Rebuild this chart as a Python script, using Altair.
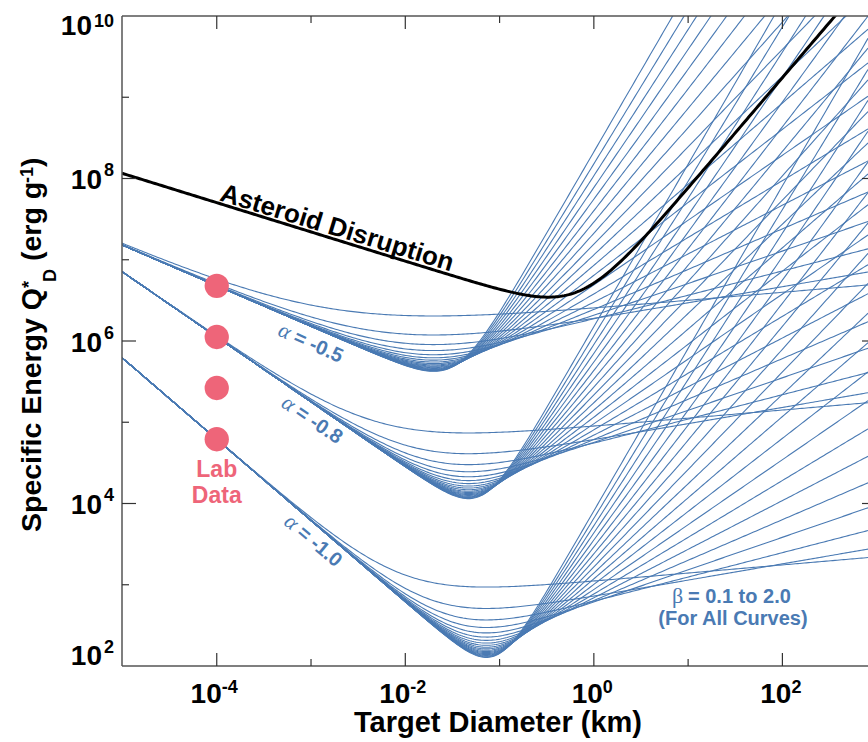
import numpy as np
import pandas as pd
import altair as alt

FONT = "Liberation Sans"
GREEK = "Liberation Serif"
BLUE = "#4a7ab3"
PINK = "#ee6579"
FRAME = "#555555"

# ---------------- values ----------------
# three strength-scaling families (alpha), each with gravity exponents beta;
# every curve of one family has its minimum at the same diameter
family_labels = ["-0.5", "-0.8", "-1.0"]
family_alpha = [-0.5, -0.8, -1.0]
family_log_a = [4.68, 2.85, 0.79]          # log10 of strength term at D = 1 km
family_logD_min = [-1.70, -1.33, -1.14]    # log10 diameter of the family's minimum
betas = [0.1, 0.2, 0.3, 0.4, 0.5, 0.6, 0.7, 0.8, 0.9, 1.0,
         1.1, 1.2, 1.3, 1.4, 1.5, 1.6, 1.7, 1.8, 1.9, 2.0]

# asteroid disruption curve (basalt-type strength + gravity regimes)
ast_Q0 = 9.0e7
ast_a = -0.36
ast_B = 0.5
ast_rho = 2.7
ast_b = 1.36

# lab data points
lab_D = [1e-4, 1e-4, 1e-4, 1e-4]
lab_Q = [4.78e6, 1.12e6, 2.64e5, 6.18e4]

# tick exponents
x_major = [-4, -2, 0, 2]
x_minor = [-3, -1, 1]
y_major_mid = [4, 6, 8]
y_minor = [3, 5, 7, 9]

# label anchor points (log10 D, log10 Q)
alpha_label_logD = [-2.989, -2.978, -2.967]
alpha_label_logQ = [5.961, 5.012, 3.522]
ast_label_logD = -2.724
ast_label_logQ = 7.389

# ---------------- build tables ----------------
LOG_XMIN, LOG_XMAX = -5.005, 2.908
grid = np.linspace(LOG_XMIN, LOG_XMAX, 340)

rows_c, rows_l, rows_q = [], [], []
cid = 0
for i in range(len(family_alpha)):
    al, la, lm = family_alpha[i], family_log_a[i], family_logD_min[i]
    s_min = la + al * lm  # log strength term at the minimum
    for b in betas:
        lq = np.log10(10 ** (la + al * grid)
                      + (-al / b) * 10 ** (s_min + b * (grid - lm)))
        keep = lq <= 10.8
        rows_c += [cid] * int(keep.sum())
        rows_l += list(np.round(grid[keep], 4))
        rows_q += list(np.round(lq[keep], 4))
        cid += 1
curves = pd.DataFrame({"c": rows_c, "l": rows_l, "q": rows_q})

R_cm = 10 ** grid * 1e5 / 2.0
ast_q = np.log10(ast_Q0 * R_cm ** ast_a + ast_B * ast_rho * R_cm ** ast_b)
keep = ast_q <= 10.8
ast = pd.DataFrame({"l": np.round(grid[keep], 4), "q": np.round(ast_q[keep], 4)})

xs = alt.Scale(type="log", domain=[10 ** LOG_XMIN, 10 ** LOG_XMAX], nice=False)
ys = alt.Scale(type="log", domain=[1e2, 1e10], nice=False)


def X(f="D"):
    return alt.X(f"{f}:Q", scale=xs, axis=None)


def Y(f="Q"):
    return alt.Y(f"{f}:Q", scale=ys, axis=None)


W, H = 746, 650

layers = []

layers.append(
    alt.Chart(curves).transform_calculate(D="pow(10, datum.l)", Q="pow(10, datum.q)")
    .mark_line(color=BLUE, strokeWidth=1.1, clip=True)
    .encode(x=X(), y=Y(), detail="c:N")
)
layers.append(
    alt.Chart(ast).transform_calculate(D="pow(10, datum.l)", Q="pow(10, datum.q)")
    .mark_line(color="black", strokeWidth=3, clip=True)
    .encode(x=X(), y=Y())
)
layers.append(
    alt.Chart(pd.DataFrame({"D": lab_D, "Q": lab_Q}))
    .mark_circle(color=PINK, opacity=1, size=590)
    .encode(x=X(), y=Y())
)

dummy = pd.DataFrame({"a": [0]})
layers.append(alt.Chart(dummy).mark_rule(color=FRAME, strokeWidth=1.5)
              .encode(x=alt.value(0), x2=alt.value(W), y=alt.value(H)))
layers.append(alt.Chart(dummy).mark_rule(color=FRAME, strokeWidth=1.5)
              .encode(x=alt.value(0), x2=alt.value(W), y=alt.value(0)))
layers.append(alt.Chart(dummy).mark_rule(color=FRAME, strokeWidth=1.5)
              .encode(x=alt.value(0), y=alt.value(0), y2=alt.value(H)))


def xticks(exps, y0, y1):
    df = pd.DataFrame({"D": [10.0 ** e for e in exps]})
    return alt.Chart(df).mark_rule(color="#333333", strokeWidth=1.2).encode(
        x=X(), y=alt.value(y0), y2=alt.value(y1))


def yticks(exps, x0, x1):
    df = pd.DataFrame({"Q": [10.0 ** e for e in exps]})
    return alt.Chart(df).mark_rule(color="#333333", strokeWidth=1.2).encode(
        y=Y(), x=alt.value(x0), x2=alt.value(x1))


layers += [
    xticks(x_major, H, H - 13), xticks(x_minor, H, H - 7),
    xticks(x_major, 0, 13), xticks(x_minor, 0, 7),
    yticks(y_major_mid, 0, 14), yticks(y_minor, 0, 7),
    yticks(y_major_mid, W + 7, W - 6),
]


def text_layer(df, enc, **kw):
    base = dict(font=FONT, fontWeight="bold", color="black")
    base.update(kw)
    return alt.Chart(df).mark_text(**base).encode(**enc)


def xlabels(exps, shift):
    df = pd.DataFrame({"D": [10.0 ** e for e in exps], "b": ["10"] * len(exps),
                       "e": [str(e) for e in exps]})
    return [
        text_layer(df, dict(x=X(), y=alt.value(H + 37), text="b:N"),
                   fontSize=28, align="right", baseline="alphabetic", dx=shift),
        text_layer(df, dict(x=X(), y=alt.value(H + 27), text="e:N"),
                   fontSize=18, align="left", baseline="alphabetic", dx=shift),
    ]


layers += xlabels([e for e in x_major if e < 0], 5)
layers += xlabels([e for e in x_major if e >= 0], 9)


def ylabels(exps, base_x, dy_base, dy_exp):
    df = pd.DataFrame({"Q": [10.0 ** e for e in exps], "b": ["10"] * len(exps),
                       "e": [str(e) for e in exps]})
    return [
        text_layer(df, dict(x=alt.value(base_x), y=Y(), text="b:N"),
                   fontSize=28, align="right", baseline="alphabetic", dy=dy_base),
        text_layer(df, dict(x=alt.value(-8), y=Y(), text="e:N"),
                   fontSize=18, align="right", baseline="alphabetic", dy=dy_exp),
    ]


layers += ylabels(y_major_mid, -20, 10.6, -2.4)
layers += ylabels([2], -20, -1, -13)
layers += ylabels([10], -30, 19, 11)

# axis titles
layers.append(text_layer(dummy, dict(x=alt.value(W / 2 + 3), y=alt.value(716),
                                     text=alt.value("Target Diameter (km)")),
                         fontSize=29, align="center", baseline="alphabetic"))

title_pieces = [
    ("Specific Energy Q", 28.5, -81, 516),
    ("*", 18, -87, 272),
    ("D", 18, -66, 266),
    ("(erg g", 28.5, -81, 245),
    ("-1", 18, -89, 167),
    (")", 28.5, -81, 151),
]
for t, fs, px, py in title_pieces:
    layers.append(text_layer(dummy, dict(x=alt.value(px), y=alt.value(py), text=alt.value(t)),
                             fontSize=fs, align="left", baseline="alphabetic", angle=270))

# alpha labels: greek letter in a lighter serif face, value in bold
alpha_angles = [24, 34, 40]
for i in range(3):
    df = pd.DataFrame({"D": [10 ** alpha_label_logD[i]], "Q": [10 ** alpha_label_logQ[i]],
                       "g": ["α"], "t": ["= " + family_labels[i]]})
    layers.append(text_layer(df, dict(x=X(), y=Y(), text="g:N"), font=GREEK, fontWeight="normal",
                             fontStyle="italic", fontSize=22, color=BLUE, align="left",
                             baseline="middle", angle=alpha_angles[i], dx=-36, dy=-1))
    layers.append(text_layer(df, dict(x=X(), y=Y(), text="t:N"), fontSize=20, color=BLUE,
                             align="left", baseline="middle", angle=alpha_angles[i], dx=-19))

# asteroid label
df = pd.DataFrame({"D": [10 ** ast_label_logD], "Q": [10 ** ast_label_logQ], "t": ["Asteroid Disruption"]})
layers.append(text_layer(df, dict(x=X(), y=Y(), text="t:N"), fontSize=26,
                         align="center", baseline="middle", angle=17))

# lab data label
df = pd.DataFrame({"D": [1e-4], "t": ["Lab\nData"]})
layers.append(text_layer(df, dict(x=X(), y=alt.value(461), text="t:N"), fontSize=23,
                         color=PINK, align="center", baseline="alphabetic",
                         lineBreak="\n", lineHeight=26))

# beta note
layers.append(text_layer(dummy, dict(x=alt.value(550), y=alt.value(587), text=alt.value("β")),
                         font=GREEK, fontWeight="normal", fontSize=22, color=BLUE,
                         align="left", baseline="alphabetic"))
layers.append(text_layer(dummy, dict(x=alt.value(566), y=alt.value(587), text=alt.value("= 0.1 to 2.0")),
                         fontSize=20, color=BLUE, align="left", baseline="alphabetic"))
layers.append(text_layer(dummy, dict(x=alt.value(611), y=alt.value(609), text=alt.value("(For All Curves)")),
                         fontSize=20, color=BLUE, align="center", baseline="alphabetic"))

chart = alt.layer(*layers).properties(
    width=W, height=H,
    padding={"left": 122, "top": 16, "right": 0, "bottom": 76},
    autosize=alt.AutoSizeParams(type="none"),
).configure_view(stroke=None)

chart.save("out.html", embed_options={"renderer": "svg", "actions": False})
